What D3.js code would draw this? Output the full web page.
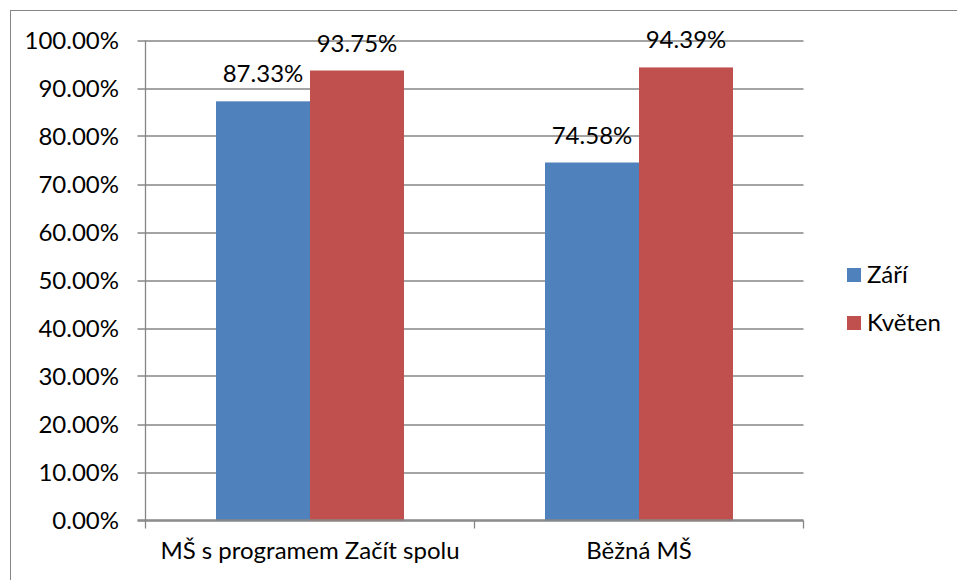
<!DOCTYPE html>
<html><head><meta charset="utf-8">
<script src="https://cdn.jsdelivr.net/npm/d3@7"></script>
<style>html,body{margin:0;padding:0;background:#fff;} svg{display:block;}</style>
</head><body>
<svg id="chart" width="957" height="580"></svg>
<script>
const categories = ["MŠ s programem Začít spolu", "Běžná MŠ"];
const seriesNames = ["Září", "Květen"];
const zari = [0.8733, 0.7458];
const kveten = [0.9375, 0.9439];
const yTicks = [0, 0.1, 0.2, 0.3, 0.4, 0.5, 0.6, 0.7, 0.8, 0.9, 1.0];
const colors = ["#4F81BD", "#C0504D"];

const font = "Lato, 'Open Sans', sans-serif";
const fs = 24;
const svg = d3.select("#chart");
svg.append("rect").attr("x", 10.5).attr("y", 10.5).attr("width", 1000).attr("height", 1000)
  .attr("fill", "#fff").attr("stroke", "#868686").attr("stroke-width", 1);

const m = {l: 145.5, r: 803.5, t: 40.5, b: 520.5};
const x = d3.scaleBand().domain(categories).range([m.l, m.r]).paddingInner(0).paddingOuter(0);
const gapRatio = 1.5;
const barW = x.bandwidth() / (2 + gapRatio);
const y = d3.scaleLinear().domain([0, 1]).range([m.b, m.t]);

// gridlines
svg.append("g").selectAll("line").data(yTicks).join("line")
  .attr("x1", m.l - 8).attr("x2", m.r)
  .attr("y1", d => Math.round(y(d))).attr("y2", d => Math.round(y(d)))
  .attr("stroke", "#868686").attr("stroke-width", 1.3);

// bars
const data = [];
categories.forEach((c, i) => {
  [zari, kveten].forEach((s, j) => data.push({c, j, v: s[i]}));
});
const bx = d => x(d.c) + x.bandwidth() / 2 - barW + d.j * barW;
svg.append("g").selectAll("rect").data(data).join("rect")
  .attr("x", bx).attr("width", barW)
  .attr("y", d => y(d.v)).attr("height", d => y(0) - y(d.v))
  .attr("fill", d => colors[d.j]);

// axes lines
svg.append("line").attr("x1", m.l).attr("x2", m.l).attr("y1", m.t).attr("y2", m.b)
  .attr("stroke", "#868686").attr("stroke-width", 1.3);
svg.append("line").attr("x1", m.l - 8).attr("x2", m.r).attr("y1", m.b - 0.5).attr("y2", m.b - 0.5)
  .attr("stroke", "#868686").attr("stroke-width", 1.3);
// x ticks at band boundaries
const xb = [m.l, ...categories.map(c => x(c) + x.bandwidth())];
svg.append("g").selectAll("line").data(xb).join("line")
  .attr("x1", d => d).attr("x2", d => d).attr("y1", m.b).attr("y2", m.b + 8)
  .attr("stroke", "#868686").attr("stroke-width", 1.3);

// y labels
const fmt = d => (d * 100).toFixed(2) + "%";
svg.append("g").selectAll("text").data(yTicks).join("text")
  .attr("x", 119).attr("y", d => y(d) + 8)
  .attr("text-anchor", "end").attr("font-family", font).attr("font-size", fs).attr("fill", "#000")
  .text(fmt);

// x labels
svg.append("g").selectAll("text").data(categories).join("text")
  .attr("x", d => x(d) + x.bandwidth() / 2).attr("y", 559)
  .attr("text-anchor", "middle").attr("font-family", font).attr("font-size", fs).attr("fill", "#000")
  .text(d => d);

// data labels
svg.append("g").selectAll("text").data(data).join("text")
  .attr("x", d => bx(d) + barW / 2).attr("y", d => y(d.v) - 19)
  .attr("text-anchor", "middle").attr("font-family", font).attr("font-size", fs).attr("fill", "#000")
  .text(d => fmt(d.v));

// legend
const lg = svg.append("g").selectAll("g").data(seriesNames).join("g")
  .attr("transform", (d, i) => `translate(847, ${268 + i * 48})`);
lg.append("rect").attr("width", 14).attr("height", 14).attr("fill", (d, i) => colors[i]);
lg.append("text").attr("x", 20).attr("y", 15).attr("font-family", font).attr("font-size", fs)
  .attr("fill", "#000").text(d => d);
</script>
</body></html>
